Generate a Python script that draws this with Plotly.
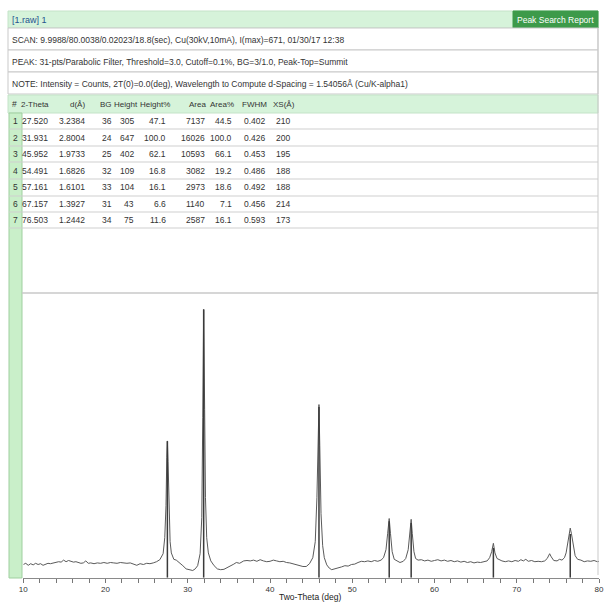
import plotly.graph_objects as go

# ---------------- data ----------------
peak_no = [1, 2, 3, 4, 5, 6, 7]
two_theta = [27.520, 31.931, 45.952, 54.491, 57.161, 67.157, 76.503]
d_spacing = [3.2384, 2.8004, 1.9733, 1.6826, 1.6101, 1.3927, 1.2442]
bg = [36, 24, 25, 32, 33, 31, 34]
height = [305, 647, 402, 109, 104, 43, 75]
height_pct = [47.1, 100.0, 62.1, 16.8, 16.1, 6.6, 11.6]
area = [7137, 16026, 10593, 3082, 2973, 1140, 2587]
area_pct = [44.5, 100.0, 66.1, 19.2, 18.6, 7.1, 16.1]
fwhm = [0.402, 0.426, 0.453, 0.486, 0.492, 0.456, 0.593]
xs = [210, 200, 195, 188, 188, 214, 173]

scan_x = [10.0, 10.3, 10.6, 10.9, 11.2, 11.5, 11.8, 12.1, 12.4, 12.7, 13.0, 13.3, 13.6, 14.0, 14.3,
          14.6, 14.9, 15.2, 15.5, 15.8, 16.1, 16.4, 16.7, 17.0, 17.3, 17.6, 17.9, 18.2, 18.6, 19.0,
          19.4, 19.8, 20.2, 20.6, 21.0, 21.4, 21.8, 22.2, 22.6, 23.0, 23.4, 23.8, 24.2, 24.6, 25.0,
          25.4, 25.8, 26.2, 26.6, 27.0, 27.2, 27.35, 27.45, 27.52, 27.6, 27.7, 27.85, 28.0, 28.3,
          28.6, 29.0, 29.4, 29.8, 30.2, 30.6, 30.9, 31.2, 31.5, 31.7, 31.82, 31.93, 32.05, 32.15,
          32.3, 32.5, 32.8, 33.2, 33.6, 34.0, 34.4, 34.8, 35.2, 35.6, 35.9, 36.3, 36.8, 37.2, 37.6,
          38.0, 38.4, 38.8, 39.2, 39.6, 40.0, 40.4, 40.8, 41.2, 41.6, 42.0, 42.4, 42.8, 43.2, 43.6,
          44.0, 44.4, 44.8, 45.2, 45.5, 45.7, 45.85, 45.95, 46.05, 46.2, 46.4, 46.6, 46.9, 47.2,
          47.5, 47.9, 48.3, 48.7, 49.1, 49.5, 49.9, 50.3, 50.7, 51.1, 51.5, 51.9, 52.3, 52.7, 53.1,
          53.5, 53.8, 54.1, 54.3, 54.49, 54.65, 54.85, 55.1, 55.4, 55.8, 56.2, 56.5, 56.8, 57.0,
          57.16, 57.3, 57.5, 57.7, 58.0, 58.4, 58.8, 59.2, 59.6, 60.0, 60.4, 60.8, 61.2, 61.6, 62.0,
          62.4, 62.8, 63.2, 63.6, 64.0, 64.4, 64.8, 65.2, 65.6, 66.0, 66.4, 66.7, 66.95, 67.157,
          67.35, 67.6, 67.9, 68.2, 68.6, 69.0, 69.4, 69.8, 70.2, 70.5, 70.8, 71.1, 71.4, 71.8, 72.2,
          72.6, 73.0, 73.4, 73.7, 74.0, 74.2, 74.5, 74.9, 75.2, 75.5, 75.8, 76.0, 76.2, 76.35,
          76.503, 76.65, 76.85, 77.1, 77.4, 77.8, 78.2, 78.6, 79.0, 79.4, 79.8, 80.0]
scan_counts = [33, 36, 31, 35, 32, 36, 33, 35, 31, 34, 36, 35, 37, 38, 40,
               39, 44, 40, 43, 41, 39, 40, 37, 36, 37, 42, 36, 37, 35, 37,
               36, 38, 36, 38, 37, 36, 38, 37, 36, 37, 34, 31, 35, 33, 36,
               35, 37, 40, 45, 60, 100, 180, 300, 342, 290, 170, 90, 62, 46,
               44, 38, 30, 22, 20, 18, 22, 30, 60, 150, 400, 671, 420, 200,
               100, 62, 42, 30, 22, 20, 21, 25, 28, 34, 38, 36, 42, 43, 42,
               44, 41, 45, 42, 40, 41, 44, 42, 40, 41, 38, 37, 35, 32, 30,
               28, 28, 35, 50, 90, 200, 360, 433, 330, 160, 80, 50, 32, 24,
               20, 22, 25, 27, 30, 29, 33, 34, 38, 41, 40, 42, 40, 43, 41,
               44, 50, 70, 110, 148, 110, 65, 46, 42, 38, 41, 48, 70, 110,
               146, 110, 65, 48, 44, 45, 42, 44, 41, 43, 45, 42, 44, 41, 43,
               40, 42, 39, 41, 38, 40, 37, 39, 38, 40, 42, 50, 65, 86,
               62, 48, 44, 42, 40, 42, 40, 43, 41, 45, 42, 46, 41, 43, 40,
               41, 40, 42, 48, 60, 52, 43, 42, 46, 44, 50, 62, 90, 115,
               124, 110, 80, 55, 46, 44, 40, 42, 41, 43, 40, 41]

x_ticks = [10, 20, 30, 40, 50, 60, 70, 80]

header_title = "[1.raw] 1"
report_label = "Peak Search Report"
scan_text = "SCAN: 9.9988/80.0038/0.02023/18.8(sec), Cu(30kV,10mA), I(max)=671, 01/30/17 12:38"
peak_text = "PEAK: 31-pts/Parabolic Filter, Threshold=3.0, Cutoff=0.1%, BG=3/1.0, Peak-Top=Summit"
note_text = "NOTE: Intensity = Counts, 2T(0)=0.0(deg), Wavelength to Compute d-Spacing = 1.54056Å (Cu/K-alpha1)"
col_headers = ["2-Theta", "d(Å)", "BG", "Height", "Height%", "Area", "Area%", "FWHM", "XS(Å)"]
x_title = "Two-Theta (deg)"

# ---------------- layout helpers ----------------
W, H = 604, 603
FONT = "Liberation Sans, Arial, sans-serif"


def px(x):
    return x / W


def py(y):
    return 1 - y / H


shapes = []
annotations = []


def rect(x0, y0, x1, y1, fill=None, line="#c9c9c9", lw=1):
    shapes.append(dict(type="rect", xref="paper", yref="paper",
                       x0=px(x0), x1=px(x1), y0=py(y1), y1=py(y0),
                       fillcolor=fill if fill else "rgba(0,0,0,0)",
                       line=dict(color=line, width=lw), layer="below"))


def hline(x0, x1, y, color="#c9c9c9", lw=1):
    shapes.append(dict(type="line", xref="paper", yref="paper",
                       x0=px(x0), x1=px(x1), y0=py(y), y1=py(y),
                       line=dict(color=color, width=lw)))


def vline(x, y0, y1, color="#c9c9c9", lw=1):
    shapes.append(dict(type="line", xref="paper", yref="paper",
                       x0=px(x), x1=px(x), y0=py(y0), y1=py(y1),
                       line=dict(color=color, width=lw)))


def text(x, y, s, size=8, color="#333333", anchor="left"):
    annotations.append(dict(xref="paper", yref="paper", x=px(x), y=py(y), text=s,
                            showarrow=False, xanchor=anchor, yanchor="middle",
                            font=dict(family=FONT, size=size, color=color)))


# header bar
rect(8, 11, 598, 28, fill="#d6f3da", line="#c4e3c8")
rect(513, 11, 598, 28, fill="#3d9a4a", line="#3d9a4a")
text(10, 19.5, header_title, size=9, color="#24528f")
text(555.5, 19.5, report_label, size=8.5, color="#ffffff", anchor="center")

# info rows
rect(8, 28, 598, 50, fill="#ffffff")
rect(8, 50, 598, 72, fill="#ffffff")
rect(8, 72, 598, 94, fill="#ffffff")
text(10, 40, scan_text, size=8.5)
text(10, 62, peak_text, size=8.5)
text(10, 84, note_text, size=8.5)

# table header
rect(8, 95, 598, 113, fill="#d6f3da", line="#c4e3c8")
# green index column / left strip
rect(9, 113, 22, 578, fill="#c9efc9", line="#9fcf9f")

row_lines = [113, 129, 146, 162, 179, 196, 212, 228]
for yl in row_lines[1:]:
    hline(9, 598, yl, color="#cfcfcf")
vline(598, 28, 575, color="#c9c9c9")
hline(22, 598, 293, color="#c9c9c9", lw=1.5)

header_right = [51, 87, 114, 140, 172, 208, 236, 269, 297]
value_right = [50, 87, 114, 136, 168, 207, 234, 268, 292]
text(15, 104, "#", size=8.5, anchor="center")
for h, xr in zip(col_headers, header_right):
    text(xr, 104, h, size=8, anchor="right")

row_y = [121, 137.5, 154, 170.5, 187.5, 204, 220]
columns = [
    ["%.3f" % v for v in two_theta],
    ["%.4f" % v for v in d_spacing],
    [str(v) for v in bg],
    [str(v) for v in height],
    ["%.1f" % v for v in height_pct],
    [str(v) for v in area],
    ["%.1f" % v for v in area_pct],
    ["%.3f" % v for v in fwhm],
    [str(v) for v in xs],
]
for i, yr in enumerate(row_y):
    text(15.5, yr, str(peak_no[i]), size=8.5, anchor="center")
    for col, xr in zip(columns, value_right):
        text(xr, yr, col[i], size=8.5, anchor="right")

text(310, 597, x_title, size=8.5, color="#222222", anchor="center")

# ---------------- figure ----------------
fig = go.Figure()
fig.add_trace(go.Scatter(x=scan_x, y=scan_counts, mode="lines",
                         line=dict(color="#5a5a5a", width=1), hoverinfo="skip",
                         showlegend=False))

stick_x, stick_y = [], []
for t, b, h in zip(two_theta, bg, height):
    stick_x += [t, t, None]
    stick_y += [0, b + h, None]
fig.add_trace(go.Scatter(x=stick_x, y=stick_y, mode="lines",
                         line=dict(color="#3a3a3a", width=1.5), hoverinfo="skip",
                         showlegend=False))

fig.update_layout(
    width=W, height=H, autosize=False,
    margin=dict(l=0, r=0, t=0, b=0),
    paper_bgcolor="white", plot_bgcolor="white",
    template="none",
    shapes=shapes, annotations=annotations,
    xaxis=dict(domain=[23.3 / W, 599 / W], range=[10, 80], tickvals=x_ticks,
               ticktext=[str(v) for v in x_ticks],
               ticks="outside", ticklen=4, tickcolor="#777777",
               minor=dict(dtick=2, ticks="outside", ticklen=4, tickcolor="#777777", showgrid=False),
               showline=True, linecolor="#8a8a8a", linewidth=1, showgrid=False, zeroline=False,
               tickfont=dict(family=FONT, size=8, color="#333333"), automargin=False),
    yaxis=dict(domain=[1 - 577.7 / H, 1 - 293 / H], range=[0, 712], visible=False,
               showgrid=False, zeroline=False, automargin=False),
)

fig.write_html("out.html", config={"displayModeBar": False},
               post_script="document.body.style.margin='0px';document.body.style.overflow='hidden';")
